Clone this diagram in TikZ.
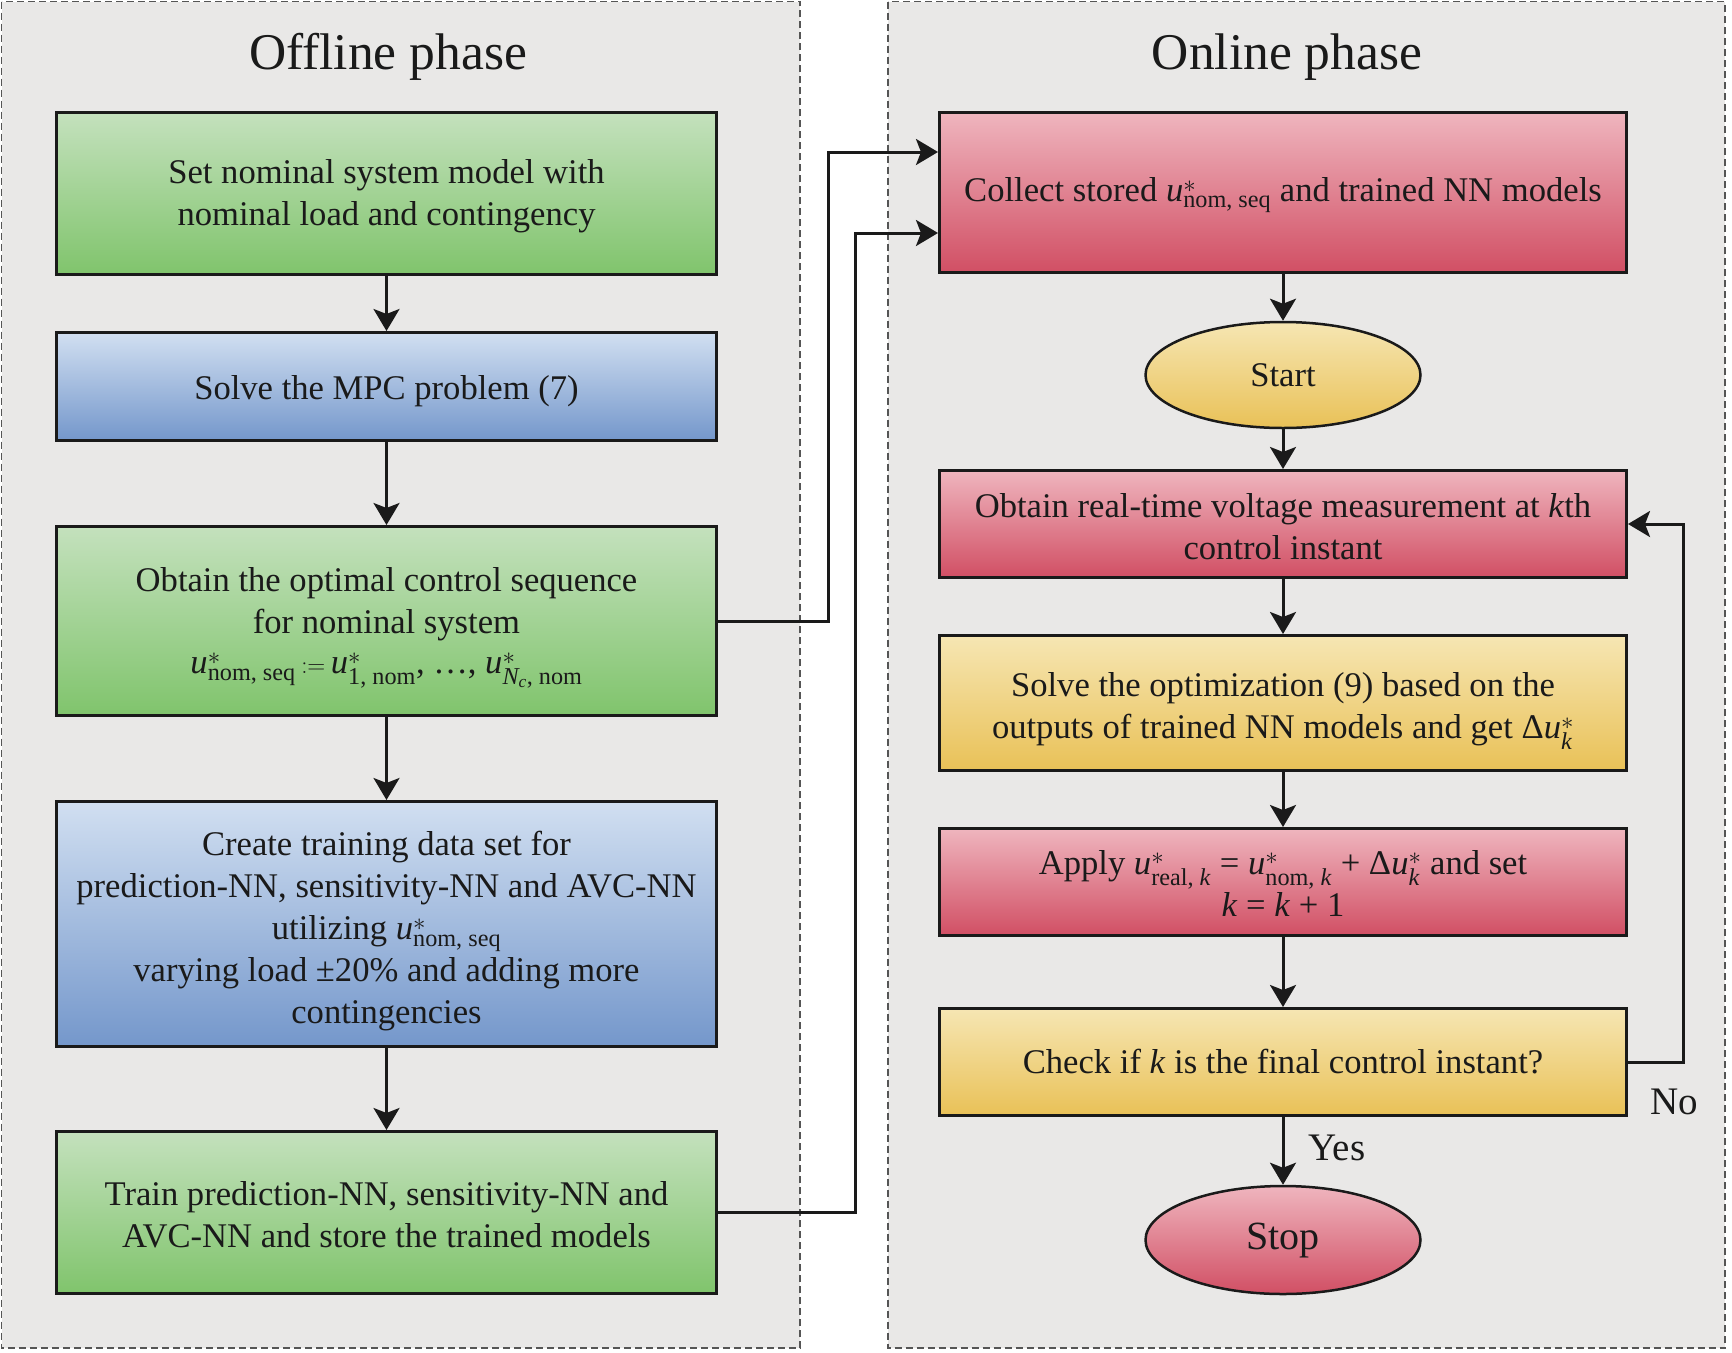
\documentclass[tikz,border=0pt]{standalone}
\usepackage{fontspec}
\usepackage{amsmath}
\setmainfont{Liberation Serif}
\usetikzlibrary{shapes.geometric,arrows.meta,calc}
\definecolor{panelbg}{HTML}{E9E8E7}
\definecolor{panelline}{HTML}{555555}
\definecolor{gtop}{HTML}{C4E1BD}\definecolor{gbot}{HTML}{80C46C}
\definecolor{btop}{HTML}{D1DFF1}\definecolor{bbot}{HTML}{7497CB}
\definecolor{rtop}{HTML}{EFB5BE}\definecolor{rbot}{HTML}{D14F64}
\definecolor{ytop}{HTML}{F6E6B3}\definecolor{ybot}{HTML}{E9C157}
\definecolor{ink}{HTML}{1A1A1A}
\newcommand\us[1]{\textit{u}$^{*}_{\text{#1}}$}
\begin{document}
\begin{tikzpicture}[x=1pt,y=-1pt,
  panel/.style={fill=panelbg,draw=panelline,line width=1.6pt,dash pattern=on 7pt off 4pt},
  title/.style={font=\fontsize{51.5pt}{60pt}\selectfont,text=ink},
  box/.style={draw=ink,line width=3pt,inner sep=0pt},
  txt/.style={align=center,text=ink,font=\fontsize{34.6pt}{42pt}\selectfont,inner sep=0pt},
  lbox/.style={box,minimum width=660pt},
  rbox/.style={box,minimum width=687pt},
  green/.style={top color=gtop,bottom color=gbot},
  blue/.style={top color=btop,bottom color=bbot},
  red/.style={top color=rtop,bottom color=rbot},
  yellow/.style={top color=ytop,bottom color=ybot},
  oval/.style={ellipse,draw=ink,line width=2.5pt,text=ink,minimum width=275pt,inner sep=0pt},
  arr/.style={draw=ink,line width=3pt,-{Stealth[length=22pt,width=26pt,inset=5pt]}},
  lbl/.style={text=ink,font=\fontsize{39pt}{46pt}\selectfont,inner sep=0pt}]
\fill[white] (0,0) rectangle (1732,1352);
\useasboundingbox (0,0) rectangle (1732,1352);
\draw[panel] (1.5,1.5) rectangle (800,1348);
\draw[panel] (888,1.5) rectangle (1725,1348);
\node[title] (t1) at (388,57) {Offline phase};
\node[title] (t2) at (1287,57) {Online phase};
% offline boxes
\node[lbox,green,minimum height=162pt] (b1) at (386.5,193.5) {};
\node[lbox,blue,minimum height=108pt] (b2) at (386.5,386.5) {};
\node[lbox,green,minimum height=189pt] (b3) at (386.5,621) {};
\node[lbox,blue,minimum height=245pt] (b4) at (386.5,924) {};
\node[lbox,green,minimum height=162pt] (b5) at (386.5,1212.5) {};
\node[txt] (b1t) at ([yshift=-2.5pt]b1.center) {Set nominal system model with\\nominal load and contingency};
\node[txt] (b2t) at ([yshift=-4.5pt]b2.center) {Solve the MPC problem (7)};
\node[txt] (b3t) at ([yshift=-6.75pt]b3.center) {Obtain the optimal control sequence\\for nominal system\\[-2pt]
  $\textit{u}^{*}_{\text{nom, seq}}\mathbin{:=}\textit{u}^{*}_{\text{1, nom}}\text{, \dots, }\textit{u}^{*}_{\textit{N}_{\textit{c}}\text{, nom}}$};
\node[txt] (b4t) at ([yshift=-7.5pt]b4.center) {Create training data set for\\prediction-NN, sensitivity-NN and AVC-NN\\utilizing \us{nom, seq}\\varying load ±20\% and adding more\\contingencies};
\node[txt] (b5t) at ([yshift=-2.5pt]b5.center) {Train prediction-NN, sensitivity-NN and\\AVC-NN and store the trained models};
% online boxes
\node[rbox,red,minimum height=160pt] (r1) at (1283,192.5) {};
\node[oval,yellow,minimum height=106pt,txt] (start) at (1283,375) {Start};
\node[rbox,red,minimum height=107pt] (r2) at (1283,524) {};
\node[rbox,yellow,minimum height=135pt] (r3) at (1283,703) {};
\node[rbox,red,minimum height=107pt] (r4) at (1283,882) {};
\node[rbox,yellow,minimum height=107pt] (r5) at (1283,1062) {};
\node[oval,red,minimum height=108pt,font=\fontsize{40pt}{46pt}\selectfont] (stop) at (1283,1240) {Stop};
\node[txt] (r1t) at ([yshift=-2.5pt]r1.center) {Collect stored \us{nom, seq} and trained NN models};
\node[txt] (r2t) at ([yshift=-2.5pt]r2.center) {Obtain real-time voltage measurement at \textit{k}th\\control instant};
\node[txt] (r3t) at ([yshift=-8pt]r3.center) {Solve the optimization (9) based on the\\outputs of trained NN models and get Δ\textit{u}$^{*}_{\textit{k}}$};
\node[txt] (r4t) at ([yshift=-1pt]r4.center) {Apply \textit{u}$^{*}_{\text{real, \textit{k}}}$ = \textit{u}$^{*}_{\text{nom, \textit{k}}}$ + Δ\textit{u}$^{*}_{\textit{k}}$ and set\\\textit{k} = \textit{k} + 1};
\node[txt] (r5t) at (r5.center) {Check if \textit{k} is the final control instant?};
% arrows offline
\draw[arr] (b1) -- (b2);
\draw[arr] (b2) -- (b3);
\draw[arr] (b3) -- (b4);
\draw[arr] (b4) -- (b5);
% cross arrows
\draw[arr] (b3.east) -- ++(110,0) |- ([yshift=40.5pt]r1.west);
\draw[arr] (b5.east) -- ++(137,0) |- ([yshift=-40.5pt]r1.west);
% online arrows
\draw[arr] (r1) -- (start);
\draw[arr] (start) -- (r2);
\draw[arr] (r2) -- (r3);
\draw[arr] (r3) -- (r4);
\draw[arr] (r4) -- (r5);
\draw[arr] (r5) -- (stop);
\draw[arr] (r5.east) -- ++(55,0) |- (r2.east);
\node[lbl] (yes) at (1337,1148) {Yes};
\node[lbl] (no) at (1674,1102) {No};
\end{tikzpicture}
\end{document}
